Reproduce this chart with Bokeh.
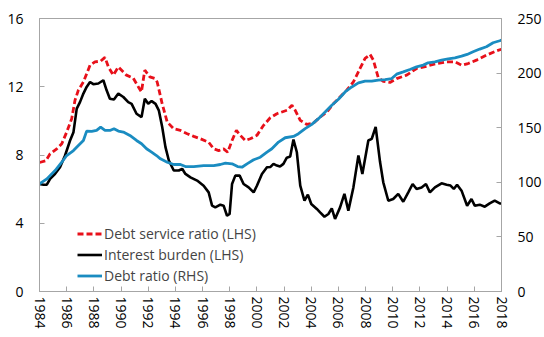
import math
from bokeh.plotting import figure
from bokeh.models import Range1d, LinearAxis, FixedTicker, Legend, LegendItem
from bokeh.embed import file_html
from bokeh.resources import INLINE

# Debt service ratio (LHS, per cent)
dsr_year = [1984.0, 1984.46, 1984.78, 1985.27, 1985.64, 1986.0, 1986.37, 1986.61, 1986.86, 1987.23,
            1987.72, 1988.08, 1988.5, 1988.82, 1989.07, 1989.43, 1989.8, 1990.4, 1990.9, 1991.27,
            1991.5, 1991.75, 1992.12, 1992.49, 1992.66, 1993.03, 1993.4, 1993.88, 1994.37, 1994.87,
            1995.35, 1995.84, 1996.45, 1996.82, 1997.19, 1997.55, 1997.85, 1998.17, 1998.49, 1998.78,
            1999.15, 1999.51, 2000.0, 2000.49, 2000.98, 2001.47, 2002.21, 2002.58, 2002.82, 2003.19,
            2003.68, 2004.16, 2004.65, 2005.15, 2005.63, 2006.12, 2006.61, 2007.1, 2007.59, 2007.96,
            2008.33, 2008.57, 2008.93, 2009.3, 2009.79, 2010.28, 2011.02, 2011.75, 2012.49, 2013.22,
            2013.96, 2014.57, 2015.06, 2015.54, 2016.16, 2016.89, 2017.63, 2018.0]
dsr_value = [7.56, 7.66, 8.07, 8.36, 8.66, 9.34, 10.13, 11.2, 11.8, 12.28,
             13.26, 13.46, 13.5, 13.72, 13.16, 12.68, 13.16, 12.68, 12.5, 12.0,
             11.7, 12.97, 12.58, 12.48, 12.28, 11.0, 9.93, 9.54, 9.44, 9.25,
             9.09, 8.95, 8.75, 8.36, 8.26, 8.36, 8.16, 8.85, 9.44, 9.15,
             8.85, 8.95, 9.15, 9.74, 10.18, 10.42, 10.62, 10.91, 10.62, 10.03,
             9.79, 9.87, 10.22, 10.52, 11.0, 11.4, 11.8, 12.28, 13.07, 13.66,
             13.89, 13.56, 12.54, 12.32, 12.25, 12.48, 12.68, 13.07, 13.2, 13.36,
             13.46, 13.46, 13.26, 13.36, 13.56, 13.85, 14.1, 14.2]

# Interest burden (LHS, per cent)
ib_year = [1984.0, 1984.3, 1984.54, 1984.78, 1985.15, 1985.51, 1985.88, 1986.25, 1986.5, 1986.74,
           1986.98, 1987.23, 1987.47, 1987.72, 1987.96, 1988.33, 1988.7, 1988.94, 1989.18, 1989.48,
           1989.8, 1990.17, 1990.53, 1990.78, 1991.14, 1991.51, 1991.75, 1992.0, 1992.25, 1992.54,
           1992.78, 1993.03, 1993.27, 1993.52, 1993.88, 1994.25, 1994.5, 1994.74, 1995.11, 1995.6,
           1996.08, 1996.45, 1996.7, 1996.94, 1997.31, 1997.55, 1997.8, 1997.99, 1998.17, 1998.41,
           1998.73, 1999.02, 1999.39, 1999.76, 2000.0, 2000.37, 2000.74, 2001.0, 2001.22, 2001.47,
           2001.7, 2001.95, 2002.2, 2002.45, 2002.69, 2002.94, 2003.19, 2003.5, 2003.75, 2004.0,
           2004.41, 2004.65, 2004.97, 2005.26, 2005.51, 2005.75, 2006.12, 2006.44, 2006.73, 2007.1,
           2007.47, 2007.76, 2008.2, 2008.45, 2008.74, 2009.06, 2009.3, 2009.67, 2010.03, 2010.4,
           2010.77, 2011.14, 2011.46, 2011.75, 2012.12, 2012.44, 2012.73, 2013.1, 2013.59, 2013.96,
           2014.25, 2014.49, 2014.73, 2015.06, 2015.47, 2015.79, 2016.03, 2016.4, 2016.77, 2017.13,
           2017.5, 2017.87, 2018.0]
ib_value = [6.3, 6.26, 6.26, 6.6, 6.9, 7.28, 7.97, 8.85, 9.34, 10.72,
            11.1, 11.6, 11.99, 12.28, 12.15, 12.19, 12.38, 11.79, 11.3, 11.25,
            11.6, 11.4, 11.1, 11.0, 10.42, 10.22, 11.3, 11.0, 11.16, 11.0,
            10.62, 9.64, 8.46, 7.68, 7.09, 7.09, 7.19, 6.89, 6.69, 6.5,
            6.2, 5.81, 5.03, 4.93, 5.09, 5.03, 4.44, 4.54, 6.3, 6.79,
            6.79, 6.3, 6.1, 5.81, 6.2, 6.89, 7.28, 7.3, 7.48, 7.38,
            7.32, 7.48, 7.84, 7.91, 8.91, 8.16, 6.21, 5.32, 5.68, 5.13,
            4.84, 4.64, 4.38, 4.54, 4.87, 4.25, 4.93, 5.72, 4.74, 6.1,
            7.97, 6.89, 8.85, 8.95, 9.64, 7.6, 6.4, 5.32, 5.42, 5.72,
            5.26, 5.81, 6.3, 6.01, 6.1, 6.3, 5.81, 6.1, 6.34, 6.26,
            6.21, 6.01, 6.26, 5.91, 5.03, 5.42, 5.03, 5.09, 4.97, 5.16,
            5.32, 5.16, 5.16]

# Debt ratio (RHS, per cent)
dr_year = [1984.0, 1984.54, 1985.15, 1985.64, 1986.0, 1986.5, 1986.86, 1987.23, 1987.47, 1987.84,
           1988.2, 1988.5, 1988.82, 1989.18, 1989.48, 1989.8, 1990.17, 1990.65, 1991.14, 1991.51,
           1991.88, 1992.25, 1992.61, 1992.9, 1993.4, 1993.88, 1994.37, 1994.74, 1995.35, 1996.08,
           1996.82, 1997.31, 1997.68, 1998.17, 1998.58, 1998.9, 1999.27, 1999.76, 2000.25, 2000.74,
           2001.1, 2001.59, 2002.08, 2002.69, 2003.06, 2003.55, 2004.04, 2004.53, 2005.02, 2005.51,
           2006.0, 2006.49, 2006.98, 2007.47, 2007.96, 2008.45, 2008.93, 2009.43, 2009.92, 2010.28,
           2010.77, 2011.26, 2011.75, 2012.24, 2012.6, 2013.1, 2013.59, 2014.08, 2014.57, 2015.06,
           2015.47, 2015.91, 2016.4, 2016.89, 2017.38, 2017.87, 2018.0]
dr_value = [98.5, 103.1, 110.8, 118.4, 124.5, 129.1, 133.7, 138.3, 146.9, 146.6,
            147.5, 150.5, 147.5, 147.5, 149.1, 146.9, 146.0, 142.9, 138.3, 135.3,
            130.7, 127.6, 124.5, 121.5, 118.4, 116.3, 116.3, 114.4, 114.4, 115.3,
            115.3, 116.3, 117.5, 116.9, 114.4, 113.8, 116.9, 120.6, 123.0, 127.6,
            130.7, 136.8, 140.8, 142.0, 144.5, 149.1, 153.0, 158.3, 164.3, 170.5,
            176.0, 182.7, 187.3, 191.0, 192.6, 192.6, 193.5, 194.1, 195.0, 199.0,
            201.1, 203.3, 205.7, 207.3, 209.4, 210.3, 211.9, 213.1, 214.0, 215.5,
            217.1, 219.5, 222.0, 224.1, 227.8, 229.6, 230.2]

x_ticks = list(range(1984, 2019, 2))
lhs_ticks = [0, 4, 8, 12, 16]
rhs_ticks = [0, 50, 100, 150, 200, 250]

labels = ["Debt service ratio (LHS)", "Interest burden (LHS)", "Debt ratio (RHS)"]

RED = "#e8101a"
BLACK = "#000000"
BLUE = "#1a8cc1"
AXIS = "#a6a6a6"
FONT = "Open Sans"
FS = "14px"

p = figure(width=544, height=337, output_backend="svg", toolbar_location=None,
           x_range=Range1d(1984, 2018), y_range=Range1d(0, 16),
           min_border_left=39, min_border_right=42, min_border_top=18, min_border_bottom=46)
p.extra_y_ranges = {"rhs": Range1d(0, 250)}

p.xgrid.visible = False
p.ygrid.visible = False
p.outline_line_color = AXIS
p.outline_line_width = 1
p.background_fill_color = "white"
p.border_fill_color = "white"

r_dsr = p.line(dsr_year, dsr_value, line_color=RED, line_width=2.8, line_dash="6 3")
r_ib = p.line(ib_year, ib_value, line_color=BLACK, line_width=2.6)
r_dr = p.line(dr_year, dr_value, line_color=BLUE, line_width=2.8, y_range_name="rhs")

def style_axis(ax):
    ax.axis_line_color = AXIS
    ax.major_tick_line_color = AXIS
    ax.major_tick_in = 5
    ax.major_tick_out = 0
    ax.minor_tick_line_color = None
    ax.major_label_text_font = FONT
    ax.major_label_text_font_size = FS
    ax.major_label_text_color = "#000000"

xa = p.xaxis[0]
xa.ticker = FixedTicker(ticks=x_ticks)
xa.major_label_orientation = -math.pi / 2
xa.major_label_standoff = 5
style_axis(xa)

ya = p.yaxis[0]
ya.ticker = FixedTicker(ticks=lhs_ticks)
ya.major_label_standoff = 16
style_axis(ya)

ra = LinearAxis(y_range_name="rhs", ticker=FixedTicker(ticks=rhs_ticks))
ra.major_label_standoff = 16
style_axis(ra)
p.add_layout(ra, "right")

legend = Legend(items=[LegendItem(label=labels[0], renderers=[r_dsr]),
                       LegendItem(label=labels[1], renderers=[r_ib]),
                       LegendItem(label=labels[2], renderers=[r_dr])],
                location=(38, 6))
legend.background_fill_alpha = 0
legend.border_line_color = None
legend.label_text_font = FONT
legend.label_text_font_size = FS
legend.label_standoff = 2
legend.glyph_width = 25
legend.glyph_height = 19
legend.label_height = 19
legend.spacing = 2
legend.padding = 0
legend.margin = 0
p.add_layout(legend, "center")

open("out.html", "w").write(file_html(p, INLINE))
